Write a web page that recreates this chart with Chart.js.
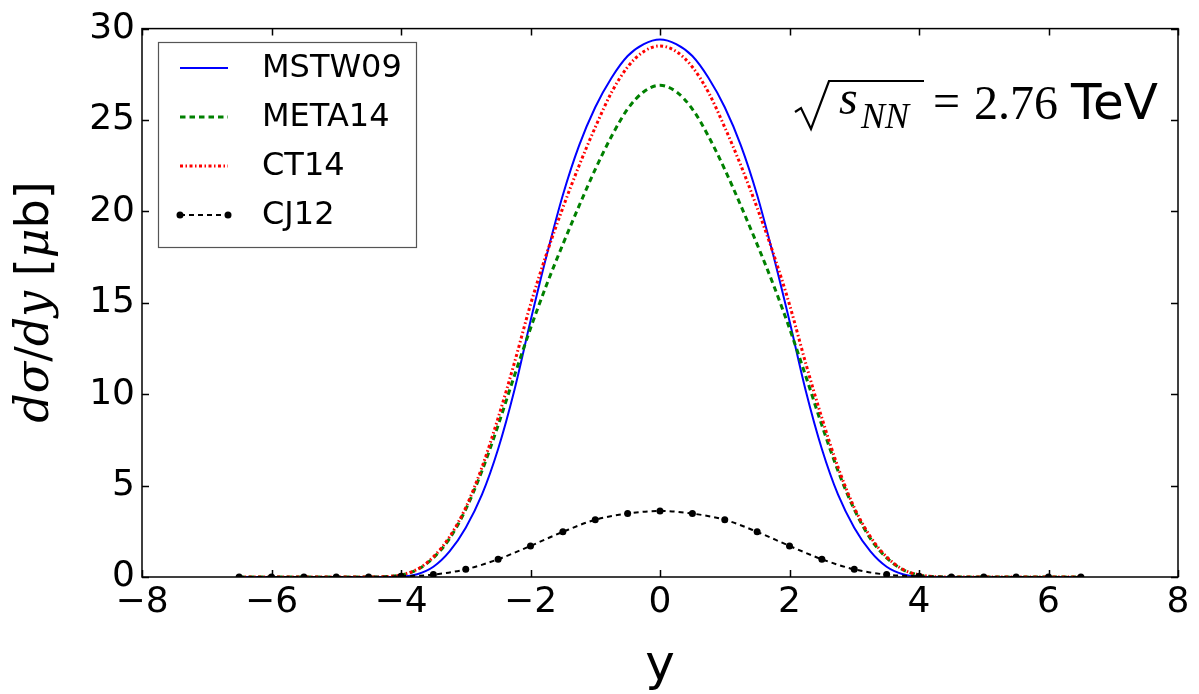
<!DOCTYPE html>
<html><head><meta charset="utf-8">
<script src="https://cdn.jsdelivr.net/npm/chart.js@4"></script>
<style>html,body{margin:0;padding:0;background:#fff;}#wrap{width:1199px;height:694px;}</style>
</head><body><div id="wrap"><canvas id="c" width="1199" height="694"></canvas></div>
<script>
// ---- data ----
const rapidity = [-6.5,-6,-5.5,-5,-4.5,-4.25,-4,-3.75,-3.5,-3.25,-3,-2.75,-2.5,-2.25,-2,-1.75,-1.5,-1.25,-1,-0.75,-0.5,-0.25,0,0.25,0.5,0.75,1,1.25,1.5,1.75,2,2.25,2.5,2.75,3,3.25,3.5,3.75,4,4.25,4.5,5,5.5,6,6.5];
const mstw09 = [0,0,0,0,0, 0,0.02,0.15,0.56,1.4,2.7,4.5,7.0,10.2,14.0,17.6,20.9,23.6,25.7,27.3,28.5,29.15, 29.4, 29.15,28.5,27.3,25.7,23.6,20.9,17.6,14.0,10.2,7.0,4.5,2.7,1.4,0.56,0.15,0.02,0, 0,0,0,0,0];
const meta14 = [0,0,0,0,0, 0.02,0.11,0.4,1.05,2.1,3.7,5.8,8.3,11.0,13.6,16.0,18.2,20.3,22.3,24.1,25.6,26.55, 26.9, 26.55,25.6,24.1,22.3,20.3,18.2,16.0,13.6,11.0,8.3,5.8,3.7,2.1,1.05,0.4,0.11,0.02, 0,0,0,0,0];
const ct14 = [0,0,0,0,0, 0.02,0.12,0.42,1.1,2.2,3.8,6.0,8.7,11.7,14.9,17.7,20.2,22.5,24.6,26.5,27.9,28.75, 29.05, 28.75,27.9,26.5,24.6,22.5,20.2,17.7,14.9,11.7,8.7,6.0,3.8,2.2,1.1,0.42,0.12,0.02, 0,0,0,0,0];
const cj12Rapidity = [-6.5,-6,-5.5,-5,-4.5,-4,-3.5,-3,-2.5,-2,-1.5,-1,-0.5,0,0.5,1,1.5,2,2.5,3,3.5,4,4.5,5,5.5,6,6.5];
const cj12 = [0,0,0,0,0.005,0.04,0.13,0.42,0.97,1.70,2.47,3.13,3.47,3.61,3.47,3.13,2.47,1.70,0.97,0.42,0.13,0.04,0.005,0,0,0,0];
const seriesNames = ['MSTW09','META14','CT14','CJ12'];
const xTicks = [-8,-6,-4,-2,0,2,4,6,8];
const yTicks = [0,5,10,15,20,25,30];

const pts = (xs, ys) => xs.map((x, i) => ({x: x, y: ys[i]}));
const styles = [
  {color:'#0000ff', width:2, dash:[]},
  {color:'#008000', width:3, dash:[5.5,4]},
  {color:'#ff0000', width:3, dash:[3,2.5,1.5,2.5]},
  {color:'#000000', width:2, dash:[5,4]}
];

const SANS = '"DejaVu Sans", sans-serif';
const SERIF = '"Liberation Serif", "DejaVu Serif", serif';
const MSERIF = '"DejaVu Serif", "Liberation Serif", serif';

function drawSegments(ctx, segs, x, y) {
  let cx = x;
  for (const s of segs) {
    ctx.font = s.font;
    ctx.fillText(s.t, cx, y + (s.dy || 0));
    cx += ctx.measureText(s.t).width + (s.gap || 0);
  }
  return cx;
}
function segWidth(ctx, segs) {
  let w = 0;
  for (const s of segs) { ctx.font = s.font; w += ctx.measureText(s.t).width + (s.gap || 0); }
  return w;
}

const decor = {
  id: 'decor',
  afterDraw(chart) {
    const ctx = chart.ctx, a = chart.chartArea;
    const xs = chart.scales.x, ys = chart.scales.y;
    ctx.save();
    // frame
    ctx.strokeStyle = '#000'; ctx.lineWidth = 1.5; ctx.setLineDash([]);
    ctx.strokeRect(a.left, a.top, a.right - a.left, a.bottom - a.top);
    // inward ticks
    ctx.beginPath();
    for (const v of xTicks) {
      const px = Math.round(xs.getPixelForValue(v)) + 0.5;
      ctx.moveTo(px, a.bottom); ctx.lineTo(px, a.bottom - 7);
      ctx.moveTo(px, a.top); ctx.lineTo(px, a.top + 7);
    }
    for (const v of yTicks) {
      const py = Math.round(ys.getPixelForValue(v)) + 0.5;
      ctx.moveTo(a.left, py); ctx.lineTo(a.left + 7, py);
      ctx.moveTo(a.right, py); ctx.lineTo(a.right - 7, py);
    }
    ctx.stroke();

    // legend
    const lx = 158, ly = 42, lw = 258, lh = 205;
    ctx.fillStyle = '#fff';
    ctx.fillRect(lx, ly, lw, lh);
    ctx.strokeStyle = '#555'; ctx.lineWidth = 1.2;
    ctx.strokeRect(lx + 0.5, ly + 0.5, lw, lh);
    const rows = [68, 117, 166, 215];
    ctx.font = '32px ' + SANS; ctx.textBaseline = 'middle'; ctx.textAlign = 'left';
    for (let i = 0; i < 4; i++) {
      const st = styles[i], y = rows[i];
      ctx.strokeStyle = st.color; ctx.lineWidth = st.width; ctx.setLineDash(st.dash);
      ctx.beginPath(); ctx.moveTo(180, y); ctx.lineTo(228, y); ctx.stroke();
      ctx.setLineDash([]);
      if (i === 3) {
        ctx.fillStyle = '#000';
        for (const mx of [180, 228]) { ctx.beginPath(); ctx.arc(mx, y, 3.5, 0, Math.PI * 2); ctx.fill(); }
      }
      ctx.fillStyle = '#000';
      ctx.fillText(seriesNames[i], 262, y + 1);
    }

    // annotation sqrt(s_NN) = 2.76 TeV
    ctx.fillStyle = '#000'; ctx.strokeStyle = '#000';
    ctx.lineWidth = 2.2; ctx.setLineDash([]);
    ctx.beginPath();
    ctx.moveTo(795, 112); ctx.lineTo(801, 108); ctx.lineTo(811, 129); ctx.lineTo(829, 81); ctx.lineTo(924, 81);
    ctx.stroke();
    ctx.textBaseline = 'alphabetic'; ctx.textAlign = 'left';
    ctx.font = 'italic 48px ' + SERIF; ctx.fillText('s', 839, 114);
    ctx.font = 'italic 36px ' + SERIF; ctx.fillText('NN', 861, 128);
    ctx.font = '48px ' + SERIF; ctx.fillText('=', 933, 117);
    ctx.fillText('2.76', 974, 119);
    ctx.font = '50px ' + SANS; ctx.fillText('TeV', 1071, 119);

    // y-axis title (rotated)
    ctx.save();
    ctx.translate(48, 302); ctx.rotate(-Math.PI / 2);
    const ysegs = [
      {t:'d', font:'italic 46px ' + MSERIF},
      {t:'σ', font:'italic 46px ' + MSERIF},
      {t:'/', font:'46px ' + MSERIF},
      {t:'d', font:'italic 46px ' + MSERIF},
      {t:'y', font:'italic 46px ' + MSERIF},
      {t:' [', font:'46px ' + SANS},
      {t:'μ', font:'italic 46px ' + MSERIF},
      {t:'b]', font:'46px ' + SANS}
    ];
    const tw = segWidth(ctx, ysegs);
    ctx.textAlign = 'left'; ctx.textBaseline = 'alphabetic';
    drawSegments(ctx, ysegs, -tw / 2, 0);
    ctx.restore();

    // x-axis title
    ctx.font = '50px ' + SANS; ctx.textAlign = 'center'; ctx.textBaseline = 'alphabetic';
    ctx.fillText('y', 660, 680);
    ctx.restore();
  }
};

new Chart(document.getElementById('c'), {
  type: 'line',
  data: {
    datasets: [
      {label: seriesNames[0], data: pts(rapidity, mstw09), borderColor: styles[0].color, borderWidth: styles[0].width, borderDash: styles[0].dash, pointRadius: 0, order: 4},
      {label: seriesNames[1], data: pts(rapidity, meta14), borderColor: styles[1].color, borderWidth: styles[1].width, borderDash: styles[1].dash, pointRadius: 0, order: 3},
      {label: seriesNames[2], data: pts(rapidity, ct14), borderColor: styles[2].color, borderWidth: styles[2].width, borderDash: styles[2].dash, pointRadius: 0, order: 2},
      {label: seriesNames[3], data: pts(cj12Rapidity, cj12), borderColor: styles[3].color, borderWidth: styles[3].width, borderDash: styles[3].dash, pointRadius: 3.5, pointBackgroundColor: '#000', pointBorderWidth: 0, order: 1}
    ]
  },
  options: {
    responsive: false, animation: false, devicePixelRatio: 1,
    elements: {line: {tension: 0.4, cubicInterpolationMode: 'monotone', fill: false}},
    layout: {padding: {left: 0, right: 21, top: 25, bottom: 0}},
    plugins: {legend: {display: false}, tooltip: {enabled: false}},
    scales: {
      x: {
        type: 'linear', min: -8, max: 8,
        grid: {display: false, drawTicks: false}, border: {display: false},
        afterBuildTicks: (s) => { s.ticks = xTicks.map(v => ({value: v})); },
        afterFit: (s) => { s.height = 117; },
        ticks: {color: '#000', padding: 4, font: {family: 'DejaVu Sans', size: 36},
          callback: (v) => (v < 0 ? '\u2212' + Math.abs(v) : String(v)), maxRotation: 0, autoSkip: false}
      },
      y: {
        type: 'linear', min: 0, max: 30,
        grid: {display: false, drawTicks: false}, border: {display: false},
        afterBuildTicks: (s) => { s.ticks = yTicks.map(v => ({value: v})); },
        afterFit: (s) => { s.width = 142; },
        ticks: {color: '#000', padding: 7, font: {family: 'DejaVu Sans', size: 36}, autoSkip: false}
      }
    }
  },
  plugins: [decor]
});
</script></body></html>
